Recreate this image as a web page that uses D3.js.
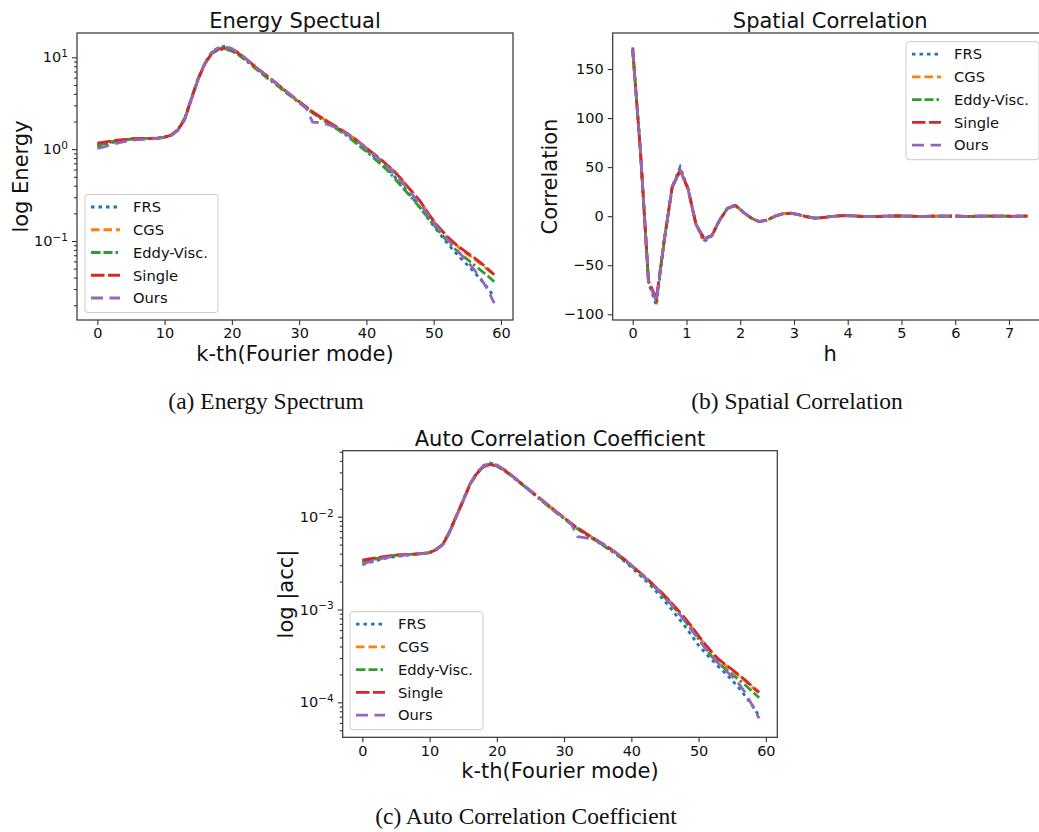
<!DOCTYPE html>
<html lang="en">
<head>
<meta charset="utf-8">
<title>flow statistics</title>
<script src="https://cdn.jsdelivr.net/npm/d3@7"></script>
<style>
  body { margin: 0; background: #fff; }
  text { font-family: "DejaVu Sans", sans-serif; fill: #111; }
  .cap { font-family: "Liberation Serif", "Times New Roman", serif; }
</style>
</head>
<body>
<script>

// ---- data ----
var names = ["FRS", "CGS", "Eddy-Visc.", "Single", "Ours"];
var colors = ["#1f77b4", "#ff7f0e", "#2ca02c", "#d62728", "#9467bd"];
var dashes = ["3.5,4", "8.5,4", "9.5,3,9,3,2.5,3.5", "13.5,3.5", "12,6.5"];

// k = 0..59 (Fourier mode)
var kModes = d3.range(60);

// energy spectrum
var energyFRS = [1.08,1.12,1.17,1.21,1.25,1.28,1.3,1.31,1.31,1.32,1.35,1.43,1.63,2.15,3.6,5.9,8.7,11.3,12.8,13.2,12.4,11.2,9.7,8.4,7.3,6.4,5.6,4.9,4.25,3.7,3.25,2.85,2.5,2.25,2.02,1.82,1.64,1.47,1.3,1.14,0.98,0.85,0.74,0.63,0.52,0.43,0.35,0.285,0.23,0.183,0.145,0.117,0.095,0.078,0.065,0.055,0.046,0.038,0.031,0.0245];
var energyCGS = [1.14,1.18,1.21,1.24,1.27,1.29,1.3,1.31,1.31,1.32,1.35,1.42,1.62,2.12,3.55,5.8,8.5,11.0,12.3,12.6,12.1,11.1,9.7,8.45,7.35,6.45,5.65,4.95,4.3,3.75,3.3,2.9,2.55,2.28,2.05,1.85,1.67,1.5,1.34,1.18,1.03,0.9,0.79,0.68,0.585,0.49,0.4,0.33,0.27,0.21,0.165,0.135,0.111,0.095,0.082,0.072,0.064,0.056,0.049,0.042];
var energyEddy = [1.1,1.14,1.19,1.23,1.26,1.29,1.3,1.31,1.31,1.32,1.35,1.43,1.64,2.18,3.65,5.9,8.6,11.0,12.1,12.3,11.7,10.6,9.3,8.1,7.05,6.15,5.4,4.75,4.15,3.65,3.2,2.82,2.48,2.2,1.97,1.77,1.58,1.41,1.24,1.08,0.94,0.81,0.7,0.6,0.5,0.41,0.34,0.28,0.23,0.185,0.15,0.122,0.1,0.084,0.072,0.063,0.055,0.048,0.042,0.036];
var energySingle = [1.16,1.19,1.22,1.25,1.27,1.29,1.3,1.31,1.31,1.32,1.35,1.42,1.62,2.12,3.55,5.8,8.5,11.0,12.3,12.6,12.1,11.0,9.7,8.45,7.35,6.45,5.65,4.95,4.3,3.75,3.3,2.9,2.55,2.28,2.05,1.85,1.67,1.5,1.34,1.18,1.03,0.9,0.79,0.68,0.59,0.49,0.4,0.33,0.27,0.21,0.165,0.135,0.112,0.096,0.084,0.074,0.066,0.058,0.05,0.043];
var energyOurs = [1.02,1.06,1.11,1.16,1.21,1.25,1.27,1.28,1.29,1.31,1.34,1.41,1.6,2.1,3.5,5.8,8.6,11.3,12.7,13.0,12.4,11.3,9.8,8.5,7.4,6.5,5.65,4.95,4.3,3.75,3.25,2.85,1.97,1.95,1.88,1.78,1.63,1.47,1.32,1.17,1.02,0.89,0.77,0.66,0.56,0.46,0.38,0.31,0.25,0.2,0.16,0.13,0.105,0.087,0.072,0.06,0.049,0.039,0.03,0.021];

// spatial correlation
var hVals = [0,0.147,0.294,0.441,0.588,0.735,0.882,1.029,1.176,1.323,1.47,1.617,1.764,1.911,2.058,2.205,2.352,2.499,2.646,2.793,2.94,3.087,3.234,3.381,3.528,3.675,3.822,3.969,4.116,4.263,4.41,4.557,4.704,4.851,4.998,5.145,5.292,5.439,5.586,5.733,5.88,6.027,6.174,6.321,6.468,6.615,6.762,6.909,7.056,7.203,7.35];
var corrFRS = [172,64,-68,-91,-25,30,50,28,-8,-26,-20,-4,8,11.5,4,-2,-5.5,-4,0,2.5,3,1.5,-0.5,-2,-1.5,-0.5,0.3,0.6,0.3,-0.3,-0.5,-0.4,0,0.2,0.2,0,-0.2,-0.2,0,0.1,0.1,0,-0.1,-0.1,0,0.1,0,0,-0.1,0,0];
var corrCGS = [170,64,-67,-86,-24,30,47,28,-8,-24,-20,-4,8,11,4,-2,-5.5,-4,0,2.5,3,1.5,-0.5,-2,-1.5,-0.5,0.3,0.6,0.3,-0.3,-0.5,-0.4,0,0.2,0.2,0,-0.2,-0.2,0,0.1,0.1,0,-0.1,-0.1,0,0.1,0,0,-0.1,0,0];
var corrEddy = [170,63,-67,-85,-24,29,46,28,-8,-23,-20,-4,8,11,4,-2,-5.5,-4,0,2.5,3,1.5,-0.5,-2,-1.5,-0.5,0.3,0.6,0.3,-0.3,-0.5,-0.4,0,0.2,0.2,0,-0.2,-0.2,0,0.1,0.1,0,-0.1,-0.1,0,0.1,0,0,-0.1,0,0];
var corrSingle = [170,64,-66,-84,-24,30,47,28,-8,-22,-20,-4,8,11,4,-2,-5.5,-4,0,2.5,3,1.5,-0.5,-2,-1.5,-0.5,0.3,0.6,0.3,-0.3,-0.5,-0.4,0,0.2,0.2,0,-0.2,-0.2,0,0.1,0.1,0,-0.1,-0.1,0,0.1,0,0,-0.1,0,0];
var corrOurs = [170,64,-67,-87,-24,30,47,28,-8,-24,-20,-4,8,11.5,4,-2,-5.5,-4,0,2.5,3,1.5,-0.5,-2,-1.5,-0.5,0.3,0.6,0.3,-0.3,-0.5,-0.4,0,0.2,0.2,0,-0.2,-0.2,0,0.1,0.1,0,-0.1,-0.1,0,0.1,0,0,-0.1,0,0];

// auto correlation coefficient
var accFRS = [3.05e-3,3.2e-3,3.35e-3,3.5e-3,3.62e-3,3.72e-3,3.8e-3,3.87e-3,3.93e-3,4.0e-3,4.1e-3,4.45e-3,5.1e-3,7.0e-3,1.03e-2,1.5e-2,2.25e-2,2.95e-2,3.55e-2,3.8e-2,3.6e-2,3.25e-2,2.85e-2,2.48e-2,2.16e-2,1.89e-2,1.65e-2,1.44e-2,1.25e-2,1.09e-2,9.6e-3,8.4e-3,7.4e-3,6.65e-3,5.95e-3,5.35e-3,4.8e-3,4.3e-3,3.8e-3,3.3e-3,2.85e-3,2.45e-3,2.1e-3,1.78e-3,1.48e-3,1.22e-3,1.0e-3,8.1e-4,6.55e-4,5.2e-4,4.1e-4,3.4e-4,2.85e-4,2.4e-4,2.05e-4,1.72e-4,1.42e-4,1.15e-4,9.2e-5,7.1e-5];
var accCGS = [3.35e-3,3.45e-3,3.55e-3,3.65e-3,3.75e-3,3.83e-3,3.88e-3,3.92e-3,3.96e-3,4.0e-3,4.1e-3,4.42e-3,5.05e-3,6.9e-3,1.02e-2,1.49e-2,2.22e-2,2.9e-2,3.45e-2,3.65e-2,3.52e-2,3.22e-2,2.85e-2,2.49e-2,2.17e-2,1.9e-2,1.66e-2,1.45e-2,1.27e-2,1.11e-2,9.75e-3,8.55e-3,7.55e-3,6.8e-3,6.1e-3,5.5e-3,4.95e-3,4.45e-3,3.95e-3,3.45e-3,3.0e-3,2.6e-3,2.25e-3,1.93e-3,1.64e-3,1.39e-3,1.16e-3,9.6e-4,7.9e-4,6.4e-4,5.15e-4,4.15e-4,3.4e-4,2.85e-4,2.5e-4,2.2e-4,1.93e-4,1.68e-4,1.45e-4,1.25e-4];
var accEddy = [3.2e-3,3.35e-3,3.5e-3,3.63e-3,3.75e-3,3.85e-3,3.9e-3,3.93e-3,3.96e-3,4.0e-3,4.1e-3,4.45e-3,5.1e-3,7.0e-3,1.04e-2,1.51e-2,2.25e-2,2.93e-2,3.48e-2,3.68e-2,3.5e-2,3.18e-2,2.8e-2,2.45e-2,2.14e-2,1.87e-2,1.63e-2,1.42e-2,1.24e-2,1.08e-2,9.5e-3,8.35e-3,7.4e-3,6.65e-3,5.95e-3,5.35e-3,4.8e-3,4.3e-3,3.8e-3,3.35e-3,2.95e-3,2.55e-3,2.2e-3,1.88e-3,1.6e-3,1.34e-3,1.12e-3,9.2e-4,7.5e-4,6.0e-4,4.8e-4,3.8e-4,3.1e-4,2.62e-4,2.28e-4,2.0e-4,1.75e-4,1.52e-4,1.3e-4,1.12e-4];
var accSingle = [3.4e-3,3.5e-3,3.6e-3,3.7e-3,3.78e-3,3.85e-3,3.9e-3,3.93e-3,3.97e-3,4.02e-3,4.1e-3,4.42e-3,5.05e-3,6.9e-3,1.02e-2,1.49e-2,2.22e-2,2.9e-2,3.45e-2,3.65e-2,3.52e-2,3.22e-2,2.85e-2,2.49e-2,2.17e-2,1.9e-2,1.66e-2,1.45e-2,1.27e-2,1.11e-2,9.75e-3,8.55e-3,7.55e-3,6.8e-3,6.1e-3,5.5e-3,4.95e-3,4.45e-3,3.95e-3,3.45e-3,3.0e-3,2.6e-3,2.25e-3,1.93e-3,1.65e-3,1.4e-3,1.17e-3,9.7e-4,8.0e-4,6.5e-4,5.2e-4,4.2e-4,3.45e-4,2.9e-4,2.55e-4,2.25e-4,1.97e-4,1.72e-4,1.48e-4,1.28e-4];
var accOurs = [3.1e-3,3.25e-3,3.4e-3,3.55e-3,3.67e-3,3.77e-3,3.84e-3,3.9e-3,3.95e-3,4.0e-3,4.08e-3,4.4e-3,5.0e-3,6.85e-3,1.02e-2,1.5e-2,2.24e-2,2.95e-2,3.53e-2,3.76e-2,3.6e-2,3.26e-2,2.86e-2,2.49e-2,2.17e-2,1.9e-2,1.66e-2,1.45e-2,1.26e-2,1.1e-2,9.7e-3,8.5e-3,6.1e-3,5.95e-3,5.8e-3,5.45e-3,4.95e-3,4.45e-3,3.95e-3,3.45e-3,3.0e-3,2.6e-3,2.22e-3,1.9e-3,1.6e-3,1.34e-3,1.12e-3,9.2e-4,7.5e-4,6.0e-4,4.8e-4,3.85e-4,3.1e-4,2.6e-4,2.2e-4,1.9e-4,1.58e-4,1.25e-4,9.2e-5,6.7e-5];

var kTicks = [0,10,20,30,40,50,60];
var hTicks = [0,1,2,3,4,5,6,7];
var corrTicks = [-100,-50,0,50,100,150];
var energyTicks = [1e-1,1e0,1e1];
var accTicks = [1e-4,1e-3,1e-2];

// ---- drawing ----
var svg = d3.select("body").append("svg")
  .attr("width", 1039).attr("height", 832)
  .style("background", "#fff");

function minorTicks(domain) {
  var out = [];
  var lo = Math.floor(Math.log10(domain[0])), hi = Math.ceil(Math.log10(domain[1]));
  for (var e = lo; e <= hi; e++) {
    for (var m = 2; m <= 9; m++) {
      var v = m * Math.pow(10, e);
      if (v > domain[0] && v < domain[1]) out.push(v);
    }
  }
  return out;
}

function drawPanel(p) {
  var g = svg.append("g");
  var x = d3.scaleLinear().domain(p.xdom).range([p.left, p.right]);
  var y = (p.log ? d3.scaleLog() : d3.scaleLinear()).domain(p.ydom).range([p.bottom, p.top]);

  // series
  var line = d3.line().x(function(d) { return x(d[0]); }).y(function(d) { return y(d[1]); });
  p.series.forEach(function(s, i) {
    var pts = p.xs.map(function(xv, j) { return [xv, s[j]]; });
    g.append("path").attr("d", line(pts))
      .attr("fill", "none")
      .attr("stroke", colors[i])
      .attr("stroke-width", 2.8)
      .attr("stroke-dasharray", dashes[i]);
  });

  // axes
  var xa = g.append("g").attr("transform", "translate(0," + p.bottom + ")")
    .call(d3.axisBottom(x).tickValues(p.xticks).tickSize(5).tickPadding(3).tickFormat(d3.format("d")));
  var ya = g.append("g").attr("transform", "translate(" + p.left + ",0)")
    .call(d3.axisLeft(y).tickValues(p.yticks).tickSize(5).tickPadding(4)
      .tickFormat(function(d) { return p.log ? "" : String(d).replace("-", "\u2212"); }));

  if (p.log) {
    ya.selectAll(".tick text").each(function(d) {
      var t = d3.select(this);
      var e = Math.round(Math.log10(d));
      t.append("tspan").text("10");
      t.append("tspan").attr("dy", "-0.5em").style("font-size", "10.5px")
        .text(String(e).replace("-", "\u2212"));
    });
    g.append("g").attr("transform", "translate(" + p.left + ",0)")
      .call(d3.axisLeft(y).tickValues(minorTicks(p.ydom)).tickSize(3).tickFormat(""))
      .call(function(a) { a.select(".domain").remove(); });
  }

  g.selectAll(".tick line").attr("stroke", "#333").attr("stroke-width", 1.1);
  g.selectAll(".tick text").style("font-size", "14.5px").attr("fill", "#111");
  g.selectAll(".domain").remove();

  // frame
  g.append("rect").attr("x", p.left).attr("y", p.top)
    .attr("width", p.right - p.left).attr("height", p.bottom - p.top)
    .attr("fill", "none").attr("stroke", "#333").attr("stroke-width", 1.2);

  // titles
  g.append("text").attr("x", (p.left + p.right) / 2).attr("y", p.top - 5)
    .attr("text-anchor", "middle").style("font-size", "21px").text(p.title);
  g.append("text").attr("x", (p.left + p.right) / 2).attr("y", p.bottom + 41)
    .attr("text-anchor", "middle").style("font-size", "21px").text(p.xlabel);
  g.append("text")
    .attr("transform", "translate(" + p.ylabelX + "," + ((p.top + p.bottom) / 2) + ") rotate(-90)")
    .attr("text-anchor", "middle").style("font-size", "21px").text(p.ylabel);

  // legend
  var lg = g.append("g").attr("transform", "translate(" + p.legend[0] + "," + p.legend[1] + ")");
  lg.append("rect").attr("width", 133).attr("height", 118).attr("rx", 3)
    .attr("fill", "#fff").attr("fill-opacity", 0.8)
    .attr("stroke", "#ccc").attr("stroke-width", 1);
  names.forEach(function(n, i) {
    var yy = 12.5 + i * 22.75;
    lg.append("line").attr("x1", 6).attr("x2", 35).attr("y1", yy).attr("y2", yy)
      .attr("stroke", colors[i]).attr("stroke-width", 2.8).attr("stroke-dasharray", dashes[i]);
    lg.append("text").attr("x", 48).attr("y", yy + 5.3).style("font-size", "14.7px").text(n);
  });

  // caption
  if (p.caption) {
    svg.append("text").attr("class", "cap").attr("x", p.caption[1]).attr("y", p.caption[2])
      .attr("text-anchor", "middle").style("font-size", "23.5px").text(p.caption[0]);
  }
}

drawPanel({
  left: 77, right: 513, top: 33, bottom: 320,
  xdom: [-3.02, 61.79], ydom: [Math.pow(10, -1.86), Math.pow(10, 1.2646)], log: true,
  xs: kModes, series: [energyFRS, energyCGS, energyEddy, energySingle, energyOurs],
  xticks: kTicks, yticks: energyTicks,
  title: "Energy Spectual", xlabel: "k-th(Fourier mode)", ylabel: "log Energy", ylabelX: 28,
  legend: [85, 194.5],
  caption: ["(a) Energy Spectrum", 266, 409]
});

drawPanel({
  left: 612.7, right: 1047.7, top: 33, bottom: 320,
  xdom: [-0.372, 7.72], ydom: [-105.8, 186.7], log: false,
  xs: hVals, series: [corrFRS, corrCGS, corrEddy, corrSingle, corrOurs],
  xticks: hTicks, yticks: corrTicks,
  title: "Spatial Correlation", xlabel: "h", ylabel: "Correlation", ylabelX: 557,
  legend: [906, 41.7],
  caption: ["(b) Spatial Correlation", 797, 409]
});

drawPanel({
  left: 342.7, right: 777.3, top: 450.7, bottom: 737.3,
  xdom: [-2.92, 61.7], ydom: [Math.pow(10, -4.377), Math.pow(10, -1.289)], log: true,
  xs: kModes, series: [accFRS, accCGS, accEddy, accSingle, accOurs],
  xticks: kTicks, yticks: accTicks,
  title: "Auto Correlation Coefficient", xlabel: "k-th(Fourier mode)", ylabel: "log |acc|", ylabelX: 293,
  legend: [350, 611.7],
  caption: ["(c) Auto Correlation Coefficient", 526, 824]
});

</script>
</body>
</html>
